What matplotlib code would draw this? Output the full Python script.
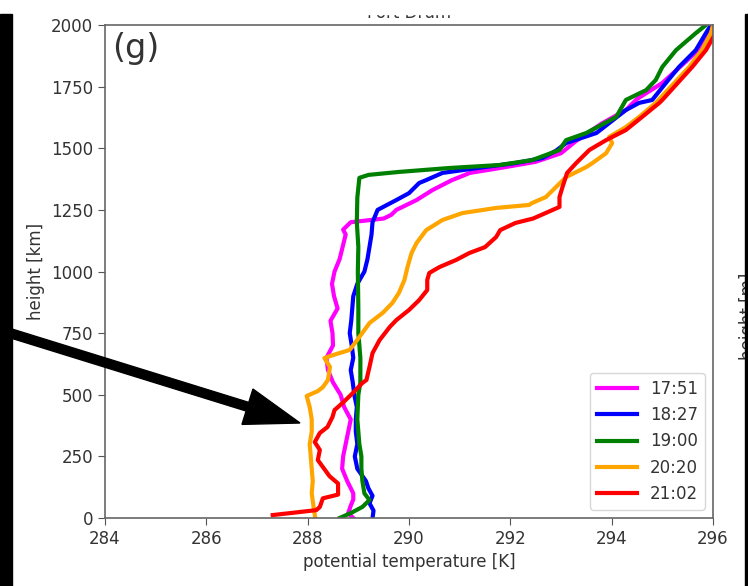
import matplotlib
matplotlib.use('Agg')
import matplotlib.pyplot as plt
from matplotlib.patches import Rectangle, FancyArrow
from matplotlib.transforms import Affine2D

# profiles: height [m] and potential temperature [K]
h_1751 = [0, 20, 50, 75, 100, 150, 200, 250, 300, 350, 400, 450, 500, 550, 600, 650,
          700, 750, 800, 850, 900, 950, 1000, 1050, 1100, 1150, 1170, 1200, 1215, 1230,
          1250, 1290, 1330, 1370, 1400, 1420, 1445, 1480, 1530, 1600, 1655, 1700, 1765,
          1830, 1900, 1967, 2000]
t_1751 = [288.9, 288.8, 288.85, 288.9, 288.9, 288.78, 288.68, 288.7, 288.75, 288.8, 288.85,
          288.72, 288.65, 288.5, 288.4, 288.37, 288.5, 288.49, 288.45, 288.59, 288.52,
          288.48, 288.53, 288.63, 288.69, 288.75, 288.7, 288.85, 289.5, 289.65, 289.75,
          290.15, 290.46, 290.84, 291.2, 291.8, 292.5, 293.0, 293.3, 293.8, 294.28, 294.5,
          295.0, 295.35, 295.72, 295.88, 295.98]

h_1827 = [0, 30, 60, 90, 120, 150, 200, 250, 300, 350, 400, 450, 500, 550, 600, 650, 700,
          750, 800, 850, 900, 950, 1000, 1050, 1100, 1150, 1200, 1250, 1290, 1318, 1359,
          1371, 1400, 1424, 1440, 1460, 1490, 1521, 1562, 1655, 1684, 1696, 1765, 1830,
          1898, 1967, 2000]
t_1827 = [289.28, 289.3, 289.22, 289.28, 289.2, 289.15, 288.98, 288.93, 288.98, 288.95,
          288.95, 288.97, 288.92, 288.89, 288.85, 288.9, 288.87, 288.83, 288.86, 288.88,
          288.9, 288.98, 289.12, 289.18, 289.22, 289.26, 289.28, 289.38, 289.75, 290.0,
          290.2, 290.34, 290.66, 291.5, 292.1, 292.63, 292.9, 293.1, 293.7, 294.28, 294.54,
          294.8, 295.07, 295.33, 295.66, 295.86, 295.96]

h_1900 = [0, 20, 45, 73, 100, 150, 200, 250, 300, 400, 500, 550, 650, 750, 850, 1000, 1100,
          1200, 1300, 1380, 1392, 1404, 1420, 1432, 1452, 1493, 1533, 1562, 1627, 1696,
          1736, 1777, 1830, 1898, 1967, 2000]
t_1900 = [288.63, 288.85, 289.08, 289.22, 289.12, 289.08, 289.06, 289.06, 289.02, 288.98,
          289.0, 289.04, 289.04, 289.0, 289.0, 288.99, 289.0, 288.97, 288.98, 289.02, 289.2,
          289.8, 290.8, 291.78, 292.43, 292.97, 293.1, 293.5, 294.09, 294.28, 294.68,
          294.87, 295.0, 295.27, 295.66, 295.86]

h_2020 = [0, 40, 100, 150, 200, 250, 300, 350, 400, 450, 495, 515, 531, 560, 613, 649, 661,
          682, 734, 791, 832, 872, 913, 966, 1018, 1075, 1116, 1168, 1209, 1237, 1258, 1270,
          1278, 1302, 1383, 1424, 1440, 1480, 1521, 1546, 1586, 1627, 1684, 1830, 1898,
          1967, 2000]
t_2020 = [288.15, 288.12, 288.08, 288.1, 288.08, 288.06, 288.04, 288.08, 288.08, 288.04,
          287.98, 288.2, 288.3, 288.4, 288.44, 288.33, 288.5, 288.83, 289.02, 289.22,
          289.48, 289.67, 289.8, 289.91, 289.97, 290.05, 290.15, 290.34, 290.66, 291.05,
          291.72, 292.37, 292.43, 292.7, 293.1, 293.5, 293.62, 293.89, 294.01, 293.95,
          294.28, 294.54, 294.87, 295.53, 295.78, 295.96, 296.0]

h_2102 = [12, 32, 45, 80, 95, 140, 170, 207, 235, 276, 308, 345, 369, 410, 438, 467, 507,
          548, 560, 613, 669, 722, 775, 803, 844, 884, 925, 966, 994, 1018, 1047, 1075,
          1099, 1140, 1168, 1197, 1215, 1262, 1302, 1343, 1400, 1440, 1493, 1533, 1574,
          1627, 1684, 1696, 1830, 1898, 1967, 2000]
t_2102 = [287.31, 288.17, 288.24, 288.3, 288.6, 288.6, 288.43, 288.3, 288.2, 288.24, 288.14,
          288.24, 288.39, 288.49, 288.53, 288.69, 288.89, 289.08, 289.16, 289.22, 289.28,
          289.42, 289.62, 289.75, 290.0, 290.2, 290.36, 290.36, 290.4, 290.6, 290.93,
          291.19, 291.5, 291.72, 291.8, 292.1, 292.45, 292.97, 292.97, 293.03, 293.12,
          293.3, 293.56, 293.89, 294.28, 294.6, 294.94, 295.0, 295.59, 295.86, 296.05,
          296.15]

labels = ['17:51', '18:27', '19:00', '20:20', '21:02']
colors = ['magenta', 'blue', 'green', 'orange', 'red']
heights = [h_1751, h_1827, h_1900, h_2020, h_2102]
temps = [t_1751, t_1827, t_1900, t_2020, t_2102]

fig = plt.figure(figsize=(7.48, 5.86), dpi=100)
ax = fig.add_axes([0.1404, 0.1160, 0.8128, 0.8413])

for t, h, c, lab in zip(temps, heights, colors, labels):
    ax.plot(t, h, color=c, lw=3, label=lab)

ax.set_xlim(284, 296)
ax.set_ylim(0, 2000)
ax.set_xticks(range(284, 297, 2))
ax.set_yticks(range(0, 2001, 250))
ax.tick_params(labelsize=12, colors='#555555', labelcolor='#333333', length=5)
for s in ax.spines.values():
    s.set_color('#666666')
    s.set_linewidth(1.2)
ax.set_xlabel('potential temperature [K]', fontsize=12, color='#333333')
ax.set_ylabel('height [km]', fontsize=12, color='#333333')
ax.set_title('Fort Drum', fontsize=12, pad=5, color='#333333')
ax.text(0.012, 0.985, '(g)', transform=ax.transAxes, fontsize=24,
        va='top', ha='left', color='#333333')
leg = ax.legend(loc='lower right', fontsize=12, handlelength=2.4)
for t in leg.get_texts():
    t.set_color('#333333')

# pixel coordinates for the screenshot decorations
px = Affine2D().scale(1 / 100) + fig.dpi_scale_trans

fig.text(739 / 748, 270 / 586, 'height [m]', rotation=90, fontsize=12,
         ha='left', va='center', color='#333333')

fig.patches.append(Rectangle((0, 572), 748, 14, transform=px, color='white', zorder=10))
fig.patches.append(Rectangle((0, 0), 12, 572, transform=px, color='black', zorder=11))
fig.patches.append(Rectangle((745, 0), 3, 572, transform=px, color='black', zorder=11))
fig.patches.append(FancyArrow(0, 256, 300, -93, width=9, head_width=37, head_length=55,
                              length_includes_head=True, color='black',
                              transform=px, zorder=12))

fig.savefig('out.png', dpi=100)
